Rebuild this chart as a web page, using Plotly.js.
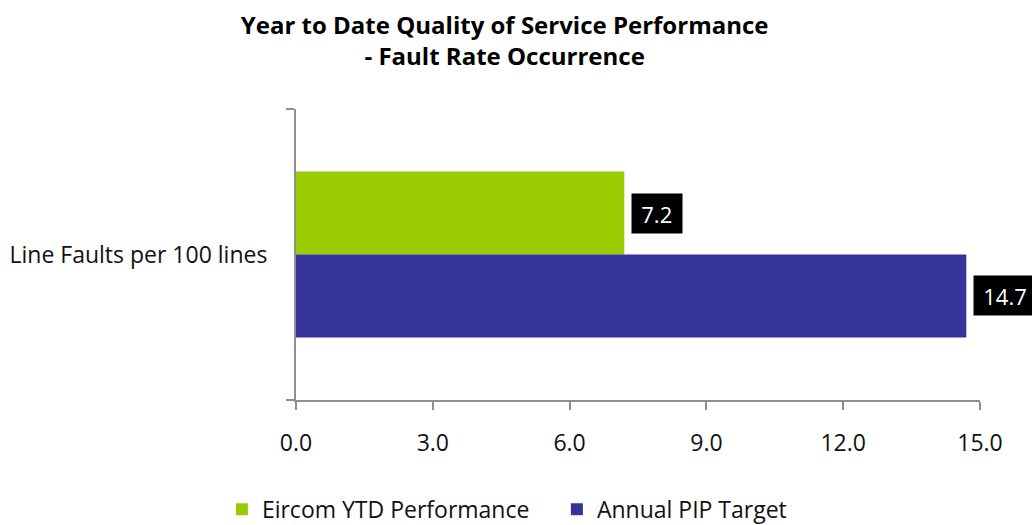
<!DOCTYPE html>
<html>
<head>
<meta charset="utf-8">
<script src="https://cdn.plot.ly/plotly-3.0.1.min.js"></script>
<style>html,body{margin:0;padding:0;background:#fff;}#chart{width:1032px;height:525px;}</style>
</head>
<body>
<div id="chart"></div>
<script>
const categories = ["Line Faults per 100 lines"];
const seriesNames = ["Eircom YTD Performance", "Annual PIP Target"];
const ytdValues = [7.2];
const pipValues = [14.7];
const valueLabels = [["7.2"], ["14.7"]];
const xTickValues = [0, 3, 6, 9, 12, 15];

const colors = ["#99cc00", "#333399"];
const bargap = 0.43;
const FONT = "'Open Sans', sans-serif";

const series = [ytdValues, pipValues];
const traces = series.map((vals, i) => ({
  type: "bar",
  orientation: "h",
  name: seriesNames[i],
  x: vals,
  y: categories,
  marker: {color: colors[i], line: {width: 0}},
  hoverinfo: "x+name"
}));

const barW = (1 - bargap) / series.length;
const annotations = [];
series.forEach((vals, i) => {
  vals.forEach((v, j) => {
    const t = valueLabels[i][j];
    annotations.push({
      x: v, y: j - (1 - bargap) / 2 + barW * (i + 0.5),
      xref: "x", yref: "y",
      text: t,
      showarrow: false,
      xanchor: "left", yanchor: "middle",
      xshift: 7,
      width: t.length * 12.5, height: 27,
      bgcolor: "#000000",
      borderpad: 6,
      font: {family: FONT, size: 22, color: "#ffffff"}
    });
  });
});

const layout = {
  width: 1032, height: 525,
  paper_bgcolor: "#ffffff", plot_bgcolor: "#ffffff",
  margin: {l: 296, r: 52, t: 109, b: 125, autoexpand: false},
  barmode: "group",
  bargap: bargap,
  title: {
    text: "<b>Year to Date Quality of Service Performance</b><br><b>- Fault Rate Occurrence</b>",
    x: 0.489, xanchor: "center",
    yref: "container", y: 0.936, yanchor: "middle",
    font: {family: FONT, size: 24, color: "#000000"}
  },
  xaxis: {
    range: [0, 15],
    tickvals: xTickValues,
    tickformat: ".1f",
    showgrid: false, zeroline: false,
    showline: true, linecolor: "#8f8f8f", linewidth: 2,
    ticks: "outside", ticklen: 8, tickwidth: 2, tickcolor: "#8f8f8f",
    ticklabelstandoff: 13,
    tickfont: {family: FONT, size: 23, color: "#111111"},
    fixedrange: true
  },
  yaxis: {
    type: "category",
    range: [0.5, -0.5],
    showgrid: false, zeroline: false,
    showline: true, linecolor: "#8f8f8f", linewidth: 2,
    ticks: "outside", tickson: "boundaries", ticklen: 8, tickwidth: 2, tickcolor: "#8f8f8f",
    ticklabelstandoff: 22,
    tickfont: {family: FONT, size: 23, color: "#111111"},
    fixedrange: true
  },
  legend: {
    orientation: "h",
    xref: "container", x: 0.215, xanchor: "left",
    yref: "container", y: 0.03, yanchor: "middle",
    font: {family: FONT, size: 23, color: "#111111"},
    itemwidth: 30,
    entrywidth: 290, entrywidthmode: "pixels",
    traceorder: "normal"
  },
  annotations: annotations,
  showlegend: true
};

Plotly.newPlot("chart", traces, layout, {displayModeBar: false, staticPlot: true});
</script>
</body>
</html>
